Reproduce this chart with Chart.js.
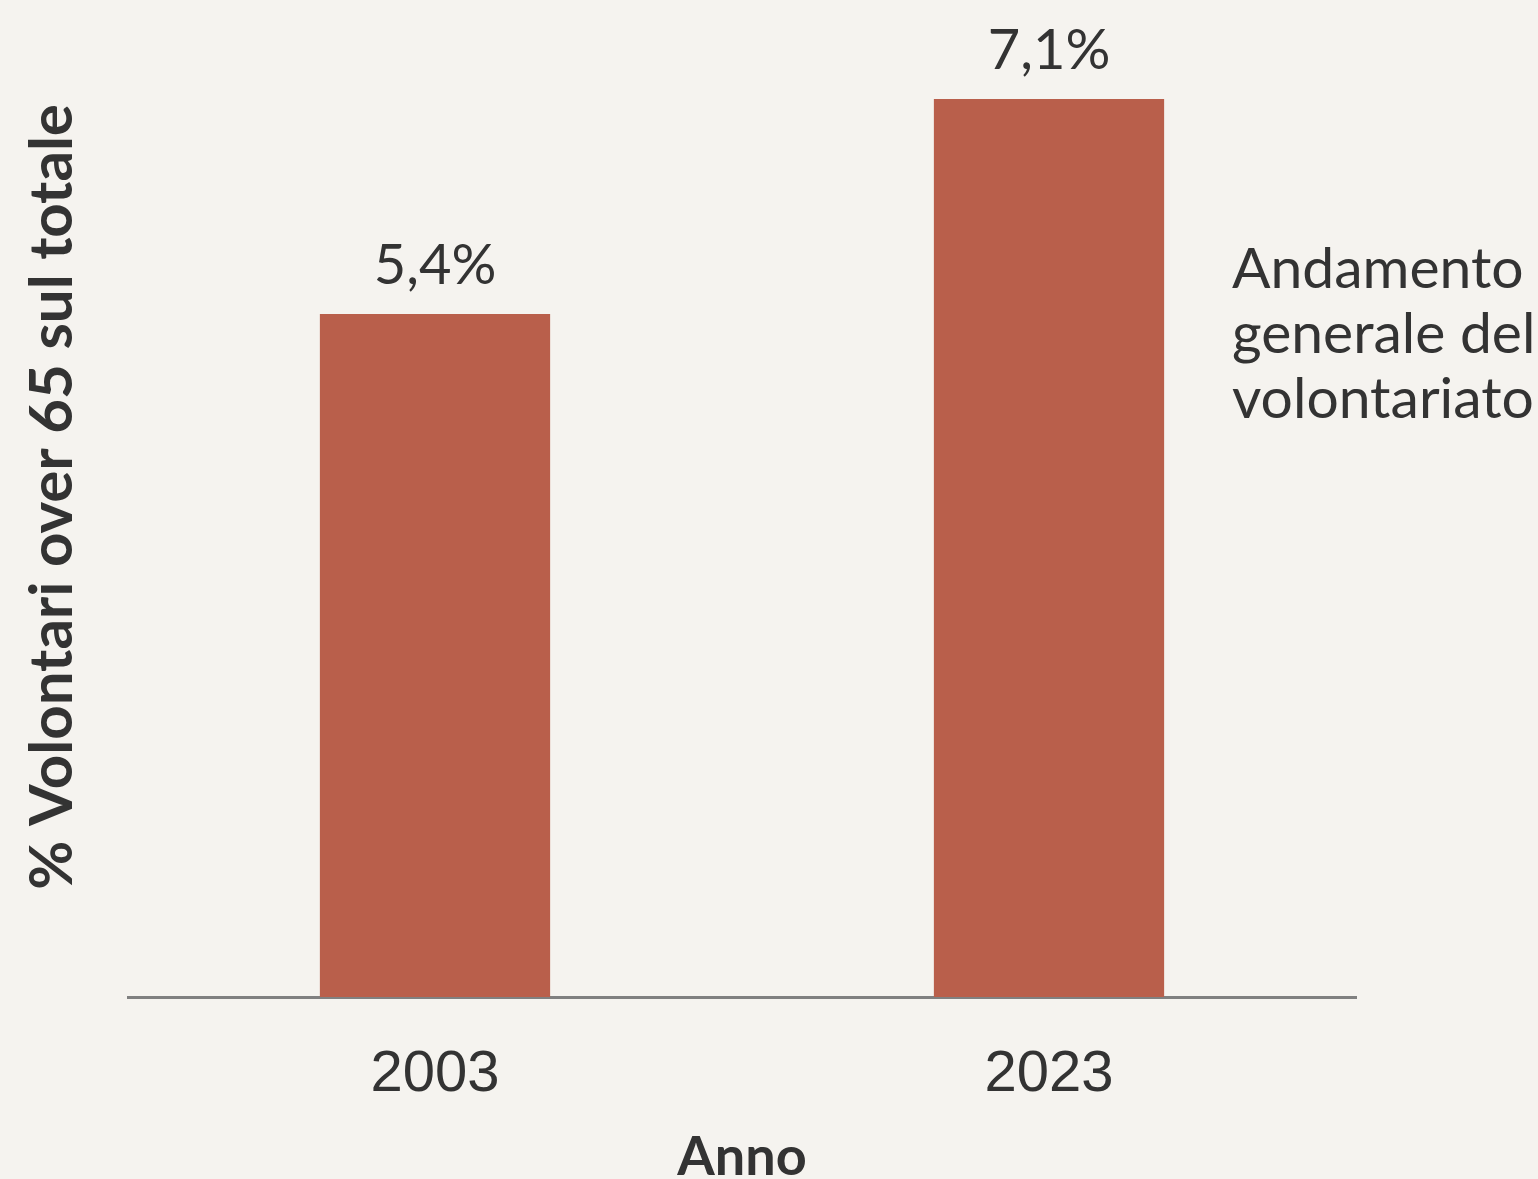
<!DOCTYPE html>
<html lang="it">
<head>
<meta charset="utf-8">
<title>Volontari over 65</title>
<script src="https://cdn.jsdelivr.net/npm/chart.js@4.4.1/dist/chart.umd.min.js"></script>
<style>
    html, body { margin: 0; padding: 0; background: #f5f3ef; }
    #chart { display: block; }
</style>
</head>
<body>
<canvas id="chart" width="1538" height="1179"></canvas>
<script>
    // data
    var anni = ['2003', '2023'];
    var quotaOver65 = [5.4, 7.1];
    var noteLines = ['Andamento', 'generale del', 'volontariato'];
    var yTitle = '% Volontari over 65 sul totale';

    var barColor = '#b95f4b';
    var textColor = '#333333';

    function fmtPct(v) {
        return v.toFixed(1).replace('.', ',') + '%';
    }

    // value labels above bars, side note, y title (sits above centre in the original)
    var labelsPlugin = {
        id: 'labelsPlugin',
        afterDatasetsDraw: function (chart) {
            var ctx = chart.ctx;
            var meta = chart.getDatasetMeta(0);
            ctx.save();
            ctx.fillStyle = textColor;
            ctx.font = '56px Lato';
            ctx.textAlign = 'center';
            ctx.textBaseline = 'alphabetic';
            meta.data.forEach(function (bar, i) {
                ctx.fillText(fmtPct(quotaOver65[i]), bar.x, bar.y - 30);
            });
            ctx.font = '57px Lato';
            ctx.textAlign = 'left';
            noteLines.forEach(function (line, i) {
                ctx.fillText(line, 1232, 288 + i * 65);
            });

            ctx.translate(53, 497);
            ctx.rotate(-Math.PI / 2);
            ctx.font = 'bold 60px Lato';
            ctx.textAlign = 'center';
            ctx.textBaseline = 'middle';
            ctx.fillText(yTitle, 0, 0);
            ctx.restore();
        }
    };

    var ctx = document.getElementById('chart').getContext('2d');
    var chart = new Chart(ctx, {
        type: 'bar',
        data: {
            labels: anni,
            datasets: [{
                label: yTitle,
                data: quotaOver65,
                backgroundColor: barColor,
                borderWidth: 0,
                barPercentage: 0.75,
                categoryPercentage: 0.5
            }]
        },
        options: {
            responsive: false,
            animation: false,
            layout: {
                padding: { top: 99, right: 182, left: 0, bottom: 0 }
            },
            plugins: {
                legend: { display: false },
                tooltip: { enabled: false }
            },
            scales: {
                x: {
                    z: 1,
                    grid: { display: false, drawTicks: false },
                    border: { display: true, color: '#808080', width: 3 },
                    ticks: {
                        color: textColor,
                        padding: 43,
                        font: { family: '"Liberation Sans", Arial, sans-serif', size: 58 }
                    },
                    title: {
                        display: true,
                        text: 'Anno',
                        color: textColor,
                        padding: { top: 0, bottom: 0 },
                        font: { family: 'Lato', size: 54, weight: 'bold', lineHeight: 0.8 }
                    },
                    afterFit: function (scale) { scale.height = 182; }
                },
                y: {
                    min: 0,
                    max: 7.1,
                    grid: { display: false, drawTicks: false },
                    border: { display: false },
                    ticks: { display: false },
                    afterFit: function (scale) { scale.width = 128; }
                }
            }
        },
        plugins: [labelsPlugin]
    });
</script>
</body>
</html>
